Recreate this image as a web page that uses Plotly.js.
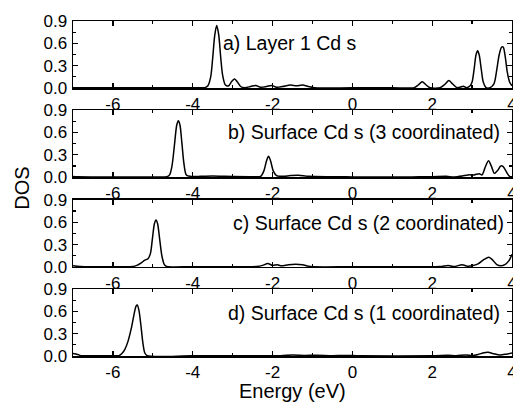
<!DOCTYPE html>
<html>
<head>
<meta charset="utf-8">
<script src="https://cdn.plot.ly/plotly-3.0.1.min.js"></script>
<style>html,body{margin:0;padding:0;background:#fff;}#chart{width:513px;height:403px;}</style>
</head>
<body>
<div id="chart"></div>
<script>
// Panel a) Layer 1 Cd s
const xa = [-7.0,-6.0,-5.0,-4.0,-3.70,-3.62,-3.55,-3.50,-3.45,-3.40,-3.35,-3.30,-3.25,-3.18,-3.10,-3.02,-2.95,-2.88,-2.80,-2.70,-2.55,-2.42,-2.30,-2.15,-2.02,-1.90,-1.75,-1.55,-1.40,-1.25,-1.10,-0.95,0.0,1.0,1.55,1.65,1.75,1.85,1.95,2.20,2.32,2.42,2.52,2.62,2.70,2.78,2.86,2.95,3.00,3.05,3.10,3.14,3.18,3.23,3.28,3.35,3.45,3.55,3.62,3.68,3.74,3.78,3.83,3.88,3.94,4.0];
const ya = [0.005,0.003,0.003,0.005,0.005,0.03,0.15,0.40,0.70,0.84,0.72,0.42,0.17,0.04,0.03,0.09,0.12,0.08,0.02,0.005,0.02,0.035,0.01,0.02,0.035,0.01,0.02,0.04,0.03,0.04,0.02,0.003,0.003,0.003,0.005,0.04,0.085,0.04,0.003,0.005,0.05,0.10,0.05,0.005,0.01,0.025,0.005,0.03,0.08,0.25,0.45,0.50,0.44,0.25,0.08,0.005,0.005,0.06,0.25,0.45,0.55,0.55,0.42,0.22,0.08,0.03];
// Panel b) Surface Cd s (3 coordinated)
const xb = [-7.0,-6.9,-6.0,-5.0,-4.65,-4.58,-4.52,-4.46,-4.40,-4.36,-4.32,-4.27,-4.22,-4.16,-4.05,-3.8,-3.5,-3.2,-2.5,-2.30,-2.22,-2.15,-2.10,-2.05,-1.98,-1.90,-1.75,-1.55,-1.35,-1.10,-0.5,0.0,1.5,2.0,2.35,2.55,2.75,2.90,3.05,3.18,3.25,3.32,3.41,3.48,3.56,3.64,3.72,3.78,3.86,3.94,4.0];
const yb = [0.01,0.005,0.003,0.003,0.005,0.03,0.15,0.42,0.70,0.757,0.70,0.45,0.18,0.03,0.01,0.01,0.015,0.01,0.005,0.01,0.08,0.22,0.28,0.22,0.08,0.02,0.01,0.02,0.025,0.01,0.005,0.003,0.003,0.005,0.01,0.003,0.015,0.03,0.03,0.045,0.03,0.12,0.22,0.15,0.05,0.09,0.15,0.14,0.07,0.01,0.005];
// Panel c) Surface Cd s (2 coordinated)
const xc = [-7.0,-6.9,-6.7,-6.0,-5.50,-5.40,-5.30,-5.20,-5.12,-5.06,-5.01,-4.96,-4.92,-4.88,-4.83,-4.77,-4.71,-4.65,-4.0,-3.0,-2.40,-2.25,-2.12,-2.00,-1.88,-1.78,-1.60,-1.42,-1.25,-1.05,0.0,1.5,2.2,2.40,2.55,2.75,2.88,3.0,3.15,3.30,3.42,3.52,3.62,3.72,3.82,3.92,4.0];
const yc = [0.015,0.008,0.003,0.003,0.005,0.02,0.05,0.09,0.11,0.18,0.38,0.58,0.63,0.58,0.38,0.14,0.03,0.005,0.003,0.003,0.005,0.02,0.045,0.02,0.03,0.015,0.03,0.035,0.03,0.005,0.003,0.003,0.005,0.02,0.005,0.03,0.01,0.015,0.04,0.10,0.13,0.09,0.03,0.015,0.03,0.08,0.17];
// Panel d) Surface Cd s (1 coordinated)
const xd = [-7.0,-6.95,-6.88,-6.80,-6.5,-6.0,-5.85,-5.78,-5.70,-5.62,-5.54,-5.47,-5.42,-5.39,-5.35,-5.30,-5.25,-5.20,-5.14,-4.0,-2.5,-1.8,-1.5,-1.2,-0.9,-0.5,-0.2,0.2,2.0,2.4,2.6,2.85,3.0,3.15,3.30,3.40,3.55,3.70,3.85,4.0];
const yd = [0.035,0.03,0.02,0.005,0.003,0.003,0.005,0.03,0.09,0.20,0.37,0.56,0.67,0.685,0.62,0.42,0.18,0.04,0.005,0.003,0.003,0.005,0.012,0.008,0.01,0.005,0.008,0.003,0.003,0.01,0.005,0.015,0.005,0.02,0.045,0.05,0.03,0.015,0.025,0.04];

const labels = ["a) Layer 1 Cd s","b) Surface Cd s (3 coordinated)","c) Surface Cd s (2 coordinated)","d) Surface Cd s (1 coordinated)"];
const labelX = [-3.3,-3.16,-3.04,-3.16];
const labelY = [0.6,0.6,0.59,0.58];
const yTicks = [0.0,0.3,0.6,0.9];
const xTicks = [-6,-4,-2,0,2,4];

const xs=[xa,xb,xc,xd], ys=[ya,yb,yc,yd];
const domains=[[0.8,1.0],[0.534,0.734],[0.266,0.466],[0,0.2]];
const font='"Liberation Sans", Arial, sans-serif';
const data=[], layout={
  width:513,height:403,margin:{l:73,r:1,t:21,b:47},
  paper_bgcolor:'#fff',plot_bgcolor:'#fff',showlegend:false,
  font:{family:font,color:'#000',size:17},annotations:[]
};
for(let i=0;i<4;i++){
  const s=i===0?'':String(i+1);
  data.push({x:xs[i],y:ys[i],xaxis:'x'+s,yaxis:'y'+s,type:'scatter',mode:'lines',
    line:{color:'#000',width:1.5,shape:'spline',smoothing:0.8},hoverinfo:'skip'});
  layout['xaxis'+s]={anchor:'y'+s,range:[-7,4],tickmode:'array',tickvals:xTicks,ticktext:xTicks.map(String),
    ticks:'inside',ticklen:5,tickwidth:1.2,tickcolor:'#000',showline:true,linecolor:'#000',linewidth:1.5,
    mirror:'allticks',showgrid:false,zeroline:false,tickfont:{size:17,family:font},
    ticklabeloverflow:'allow',
    minor:{dtick:1,tick0:-7,ticks:'inside',ticklen:3,tickwidth:1.2,tickcolor:'#000',showgrid:false},
    ticklabelstandoff:0};
  layout['yaxis'+s]={anchor:'x'+s,domain:domains[i],range:[0,0.9],tickmode:'array',tickvals:yTicks,
    ticktext:yTicks.map(v=>v.toFixed(1)),ticks:'inside',ticklen:5,tickwidth:1.2,tickcolor:'#000',
    showline:true,linecolor:'#000',linewidth:1.5,mirror:'allticks',showgrid:false,zeroline:false,
    tickfont:{size:17,family:font},
    minor:{tickvals:[0.15,0.45,0.75],ticks:'inside',ticklen:3,tickwidth:1.2,tickcolor:'#000',showgrid:false},
    ticklabelstandoff:1};
  layout.annotations.push({text:labels[i],x:labelX[i],y:labelY[i],xref:'x'+s,yref:'y'+s,
    xanchor:'left',yanchor:'middle',showarrow:false,font:{size:19.5,family:font,color:'#000'}});
}
layout.annotations.push({text:'DOS',xref:'paper',yref:'paper',x:-0.118,y:0.5,textangle:-90,
  xanchor:'center',yanchor:'middle',showarrow:false,font:{size:20,family:font,color:'#000'}});
layout.annotations.push({text:'Energy (eV)',xref:'paper',yref:'paper',x:0.5,y:-0.14,
  xanchor:'center',yanchor:'bottom',showarrow:false,borderpad:0,font:{size:20,family:font,color:'#000'}});
Plotly.newPlot('chart',data,layout,{staticPlot:true,displayModeBar:false});
</script>
</body>
</html>
